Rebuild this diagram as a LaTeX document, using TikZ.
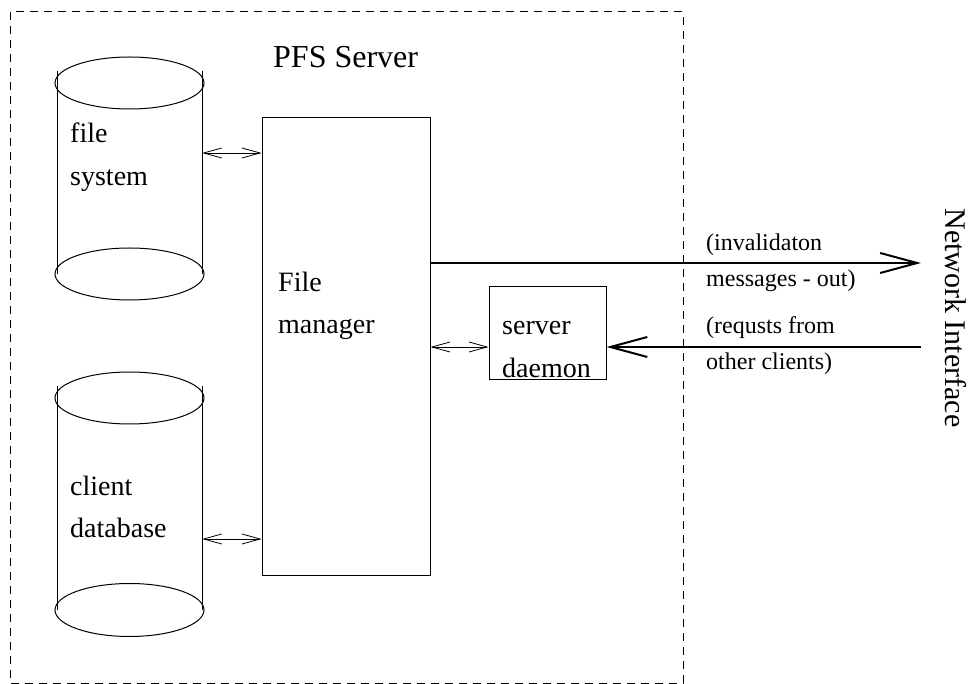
\documentclass[tikz,border=0pt]{standalone}
\usepackage{fontspec}
\setmainfont{Liberation Serif}
\usetikzlibrary{arrows.meta}

\tikzset{
  outline/.style={draw, line width=1pt},
  boxnode/.style={draw, line width=1pt, inner sep=0pt},
  sidelabel/.style={anchor=base west, inner sep=0pt, font=\fontsize{28}{32}\selectfont},
  netlabel/.style={anchor=base west, inner sep=0pt, font=\fontsize{24}{28}\selectfont},
  twoway/.style={line width=0.8pt, {Straight Barb[length=18pt,width=10pt]}-{Straight Barb[length=18pt,width=10pt]}},
  bigarrow/.style={line width=2pt, -{Straight Barb[length=37pt,width=20pt,line width=2pt]}},
  drum/.style={inner sep=0pt, minimum width=145pt}
}

\begin{document}
\begin{tikzpicture}[x=1pt,y=-1pt]
\useasboundingbox (0,0) rectangle (970,684);

% server boundary
\draw[line width=1pt, dash pattern=on 8pt off 6pt] (10,12) rectangle (683,683);
\node[anchor=base west, inner sep=0pt, font=\fontsize{32}{36}\selectfont] (title) at (273,68) {PFS Server};

% file system drum
\node[drum, minimum height=230pt] (fs) at (129.5,172) {};
\draw[outline] (129.5,83) ellipse [x radius=74.5, y radius=26];
\draw[outline] (129.5,274) ellipse [x radius=74.5, y radius=26];
\draw[outline] (57,71) -- (57,274);
\draw[outline] (202,71) -- (202,274);
\node[sidelabel] (fsa) at (70,143) {file};
\node[sidelabel] (fsb) at (70,186) {system};

% client database drum
\node[drum, minimum height=230pt] (cdb) at (129.5,497) {};
\draw[outline] (129.5,398) ellipse [x radius=74.5, y radius=26];
\draw[outline] (129.5,610) ellipse [x radius=74.5, y radius=26.5];
\draw[outline] (57,386) -- (57,610);
\draw[outline] (202,386) -- (202,610);
\node[sidelabel] (cdba) at (70,496) {client};
\node[sidelabel] (cdbb) at (70,538) {database};

% file manager and server daemon
\node[boxnode, minimum width=168pt, minimum height=457pt] (fm) at (346,346.5) {};
\node[sidelabel] (fma) at (278,292) {File};
\node[sidelabel] (fmb) at (278,334) {manager};
\node[boxnode, minimum width=117pt, minimum height=93pt] (sd) at (547.5,333.5) {};
\node[sidelabel] (sda) at (502,335) {server};
\node[sidelabel] (sdb) at (502,378) {daemon};

% network side
\node[rotate=-90, anchor=base, inner sep=0pt, font=\fontsize{30}{34}\selectfont] (net) at (945,318) {Network Interface};
\coordinate (outend) at (921,263);
\coordinate (instart) at (921,347);

% connectors
\coordinate (r1) at (0,153);
\coordinate (r2) at (0,539);
\coordinate (r3) at (0,347);
\coordinate (r4) at (0,263);
\draw[twoway] (fs.east |- r1) -- (fm.west |- r1);
\draw[twoway] (cdb.east |- r2) -- (fm.west |- r2);
\draw[twoway] (fm.east |- r3) -- (sd.west |- r3);
\draw[bigarrow] (fm.east |- r4) -- (outend);
\draw[bigarrow] (instart) -- (sd.east |- instart);

% message labels
\node[netlabel] (m1) at (706,251) {(invalidaton};
\node[netlabel] (m2) at (706,287) {messages - out)};
\node[netlabel] (m3) at (706,334) {(requsts from};
\node[netlabel] (m4) at (706,370) {other clients)};
\end{tikzpicture}
\end{document}
